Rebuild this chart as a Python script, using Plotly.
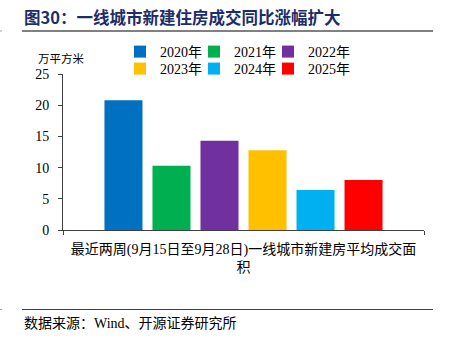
import plotly.graph_objects as go

category = ["最近两周(9月15日至9月28日)一线城市新建房平均成交面<br>积"]
years = ["2020年", "2021年", "2022年", "2023年", "2024年", "2025年"]
values = [20.8, 10.3, 14.3, 12.8, 6.4, 8.0]
colors = ["#0070C0", "#00B050", "#7030A0", "#FFC000", "#00B0F0", "#FF0000"]
y_ticks = [0, 5, 10, 15, 20, 25]

FONT = "'Liberation Serif', 'Times New Roman', 'Noto Sans CJK SC', serif"

W, H = 451, 346
l, r, t, b = 63, 27, 74, 116
pw, ph = W - l - r, H - t - b

def px(x):
    return (x - l) / pw

def py(y):
    return (H - b - y) / ph

# legend text start x (pixels) and row centre y (pixels)
leg_text_x = [160, 234, 308, 160, 234, 308]
leg_row_y = [52, 52, 52, 69, 69, 69]

fig = go.Figure()
legend_layouts = {}
for i, (yr, v, c) in enumerate(zip(years, values, colors)):
    lname = "legend" if i == 0 else f"legend{i + 1}"
    fig.add_trace(go.Bar(
        x=category, y=[v], name=yr, marker=dict(color=c, line=dict(width=0)),
        legend=lname,
    ))
    legend_layouts[lname] = dict(
        orientation="h", x=px(leg_text_x[i] - 40), y=py(leg_row_y[i]),
        xanchor="left", yanchor="middle",
        font=dict(family=FONT, size=14), bgcolor="rgba(0,0,0,0)",
        borderwidth=0, itemclick=False, itemdoubleclick=False,
    )

fig.update_layout(
    width=W, height=H,
    margin=dict(l=l, r=r, t=t, b=b, autoexpand=False),
    paper_bgcolor="white", plot_bgcolor="white",
    font=dict(family=FONT, size=13, color="#000000"),
    barmode="group", bargap=0.202, bargroupgap=0.208,
    showlegend=True,
    xaxis=dict(showline=True, linecolor="#404040", linewidth=1,
               ticks="outside", tickson="boundaries", ticklen=4, tickcolor="#404040",
               tickfont=dict(family=FONT, size=14), showgrid=False,
               ticklabelstandoff=6),
    yaxis=dict(range=[0, 25], tickvals=y_ticks, showline=True, linecolor="#404040",
               linewidth=1, ticks="outside", ticklen=4, tickcolor="#404040",
               tickfont=dict(family=FONT, size=14), showgrid=False, zeroline=False,
               ticklabelstandoff=6),
    **legend_layouts,
)

fig.add_shape(type="line", xref="paper", yref="paper", x0=px(22), x1=px(433),
              y0=py(31), y1=py(31), line=dict(color="#808080", width=2))
fig.add_shape(type="line", xref="paper", yref="paper", x0=px(22), x1=px(433),
              y0=py(309.5), y1=py(309.5), line=dict(color="#404040", width=1))
for yy in (31, 309.5):
    fig.add_shape(type="line", xref="paper", yref="paper", x0=px(0), x1=px(2),
                  y0=py(yy), y1=py(yy), line=dict(color="#A0A0A0", width=1))

fig.add_annotation(text="<b>图30：一线城市新建住房成交同比涨幅扩大</b>", xref="paper", yref="paper",
                   x=px(22), y=py(17), xanchor="left", yanchor="middle", showarrow=False,
                   font=dict(family="'Noto Sans CJK SC', 'Liberation Serif'", size=16.5, color="#1B2C6B"))
fig.add_annotation(text="万平方米", xref="paper", yref="paper",
                   x=px(61), y=py(58), xanchor="center", yanchor="middle", showarrow=False,
                   font=dict(family="'Noto Sans CJK SC'", size=11.5, color="#000000"))
fig.add_annotation(text="数据来源：Wind、开源证券研究所", xref="paper", yref="paper",
                   x=px(22), y=py(323), xanchor="left", yanchor="middle", showarrow=False,
                   font=dict(family=FONT, size=14, color="#000000"))

fig.write_html("out.html")
